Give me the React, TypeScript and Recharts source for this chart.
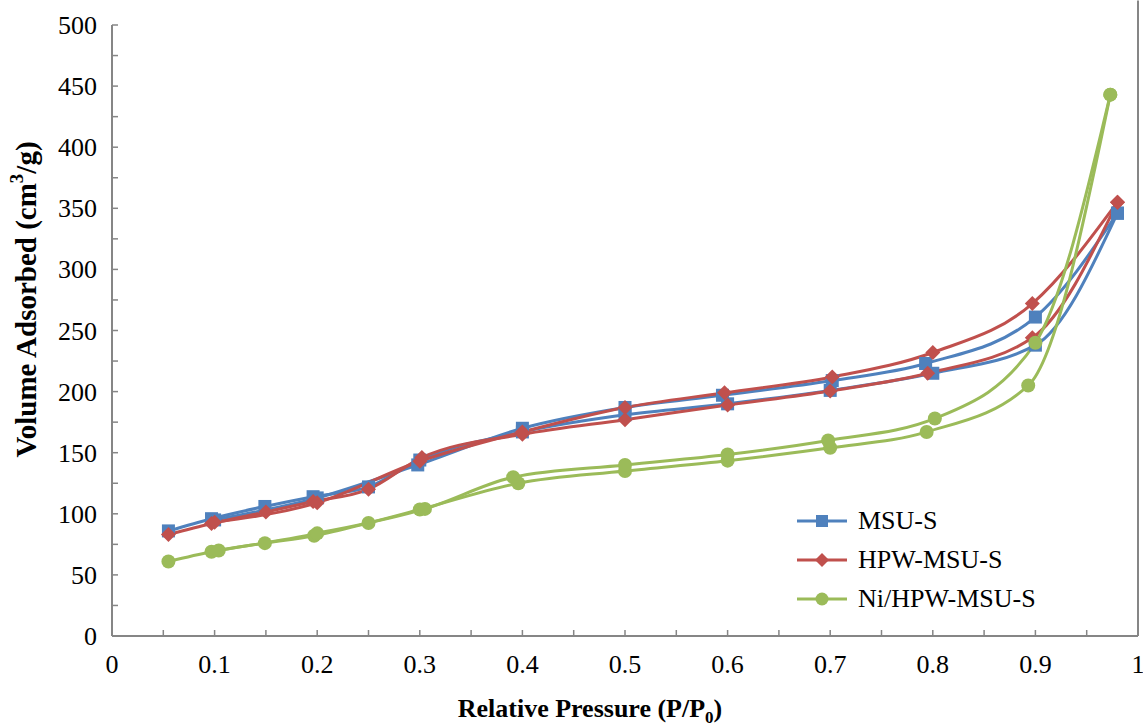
import { LineChart, Line, XAxis, YAxis, Legend, ReferenceLine, Label } from "recharts";

// N2 isotherms: each sample has a lower (adsorption) and upper (desorption) branch
const msuAds = [
  { p: 0.055, v: 86 }, { p: 0.097, v: 96 }, { p: 0.149, v: 106 }, { p: 0.196, v: 114 },
  { p: 0.25, v: 122 }, { p: 0.3, v: 144 }, { p: 0.4, v: 167 }, { p: 0.5, v: 181 },
  { p: 0.6, v: 190 }, { p: 0.7, v: 201 }, { p: 0.8, v: 215 }, { p: 0.9, v: 238 },
  { p: 0.98, v: 346 },
];
const msuDes = [
  { p: 0.1, v: 95 }, { p: 0.2, v: 113 }, { p: 0.298, v: 140 }, { p: 0.4, v: 170 },
  { p: 0.5, v: 187 }, { p: 0.595, v: 197 }, { p: 0.702, v: 209 }, { p: 0.793, v: 223 },
  { p: 0.9, v: 261 }, { p: 0.98, v: 346 },
];
const hpwAds = [
  { p: 0.055, v: 83 }, { p: 0.097, v: 92 }, { p: 0.15, v: 101.5 }, { p: 0.196, v: 110 },
  { p: 0.25, v: 120 }, { p: 0.302, v: 146 }, { p: 0.4, v: 165 }, { p: 0.5, v: 177 },
  { p: 0.6, v: 189 }, { p: 0.7, v: 200.5 }, { p: 0.795, v: 215 }, { p: 0.897, v: 244 },
  { p: 0.98, v: 355 },
];
const hpwDes = [
  { p: 0.1, v: 93 }, { p: 0.2, v: 109 }, { p: 0.3, v: 143 }, { p: 0.4, v: 167 },
  { p: 0.5, v: 187 }, { p: 0.597, v: 199 }, { p: 0.702, v: 212 }, { p: 0.8, v: 232 },
  { p: 0.897, v: 272 }, { p: 0.98, v: 355 },
];
const niAds = [
  { p: 0.055, v: 61 }, { p: 0.097, v: 69 }, { p: 0.149, v: 76 }, { p: 0.197, v: 82 },
  { p: 0.25, v: 92.5 }, { p: 0.3, v: 103.5 }, { p: 0.396, v: 125 }, { p: 0.5, v: 135 },
  { p: 0.6, v: 143.5 }, { p: 0.7, v: 154 }, { p: 0.794, v: 167 }, { p: 0.893, v: 205 },
  { p: 0.973, v: 443 },
];
const niDes = [
  { p: 0.104, v: 70 }, { p: 0.2, v: 84 }, { p: 0.305, v: 104 }, { p: 0.391, v: 130 },
  { p: 0.5, v: 140 }, { p: 0.6, v: 148.5 }, { p: 0.698, v: 160 }, { p: 0.802, v: 178 },
  { p: 0.9, v: 240 }, { p: 0.973, v: 443 },
];

const xTicks = [0, 0.05, 0.1, 0.15, 0.2, 0.25, 0.3, 0.35, 0.4, 0.45, 0.5, 0.55, 0.6, 0.65, 0.7, 0.75, 0.8, 0.85, 0.9, 0.95, 1];
const yTicks = [0, 25, 50, 75, 100, 125, 150, 175, 200, 225, 250, 275, 300, 325, 350, 375, 400, 425, 450, 475, 500];

const BLUE = "#4F81BD";
const RED = "#C0504D";
const GREEN = "#9BBB59";
const AXIS = "#868686";
const FONT = "'Liberation Serif', 'Times New Roman', serif";
const FS = 26;
const LW = 3;

const X_MARGIN = 10;
const Y_MARGIN = 15;

const XTick = (props: any) => {
  const { x, y, payload } = props;
  const v = payload.value;
  const axisY = y - X_MARGIN;
  const major = Math.round(v * 100) % 10 === 0;
  const text = v === 0 ? "0" : v === 1 ? "1" : v.toFixed(1);
  return (
    <g>
      <line x1={x} x2={x} y1={axisY} y2={axisY - 6} stroke={AXIS} strokeWidth={1.5} />
      {major && (
        <text x={x} y={axisY + 37} textAnchor="middle" fontFamily={FONT} fontSize={FS} fill="#000">
          {text}
        </text>
      )}
    </g>
  );
};

const YTick = (props: any) => {
  const { x, y, payload } = props;
  const v = payload.value;
  const axisX = x + Y_MARGIN;
  return (
    <g>
      <line x1={axisX} x2={axisX + 6} y1={y} y2={y} stroke={AXIS} strokeWidth={1.5} />
      {v % 50 === 0 && (
        <text x={x} y={y + 9} textAnchor="end" fontFamily={FONT} fontSize={FS} fill="#000">
          {v}
        </text>
      )}
    </g>
  );
};

const square = (color: string) => (props: any) => (
  <rect key={`s${props.index}`} x={props.cx - 6.5} y={props.cy - 6.5} width={13} height={13} fill={color} />
);
const diamond = (color: string) => (props: any) => {
  const { cx, cy } = props;
  return (
    <path key={`d${props.index}`} d={`M${cx},${cy - 7.5}L${cx + 7.5},${cy}L${cx},${cy + 7.5}L${cx - 7.5},${cy}Z`} fill={color} />
  );
};
const circle = (color: string) => (props: any) => (
  <circle key={`c${props.index}`} cx={props.cx} cy={props.cy} r={7} fill={color} />
);

const legendItems = [
  { name: "MSU-S", color: BLUE, shape: "square" },
  { name: "HPW-MSU-S", color: RED, shape: "diamond" },
  { name: "Ni/HPW-MSU-S", color: GREEN, shape: "circle" },
];

const LegendBox = () => (
  <div style={{ fontFamily: FONT, fontSize: FS, color: "#000" }}>
    {legendItems.map((it) => (
      <div key={it.name} style={{ display: "flex", alignItems: "center", height: 39 }}>
        <svg width={58} height={20} style={{ marginRight: 5 }}>
          <line x1={2} x2={52} y1={10} y2={10} stroke={it.color} strokeWidth={LW} />
          {it.shape === "square" && <rect x={21} y={4} width={12} height={12} fill={it.color} />}
          {it.shape === "diamond" && <path d="M27,3L34,10L27,17L20,10Z" fill={it.color} />}
          {it.shape === "circle" && <circle cx={27} cy={10} r={6.5} fill={it.color} />}
        </svg>
        <span>{it.name}</span>
      </div>
    ))}
  </div>
);

const YTitle = (props: any) => {
  const vb = props.viewBox;
  const cx = 26;
  const cy = vb.y + vb.height / 2 - 31;
  return (
    <text
      x={cx}
      y={cy}
      transform={`rotate(-90, ${cx}, ${cy})`}
      textAnchor="middle"
      dominantBaseline="central"
      fontFamily={FONT}
      fontSize={29}
      fontWeight="bold"
      fill="#000"
    >
      Volume Adsorbed (cm
      <tspan fontSize={19} dy={-10}>3</tspan>
      <tspan dy={10}>/g)</tspan>
    </text>
  );
};

const XTitle = (props: any) => {
  const vb = props.viewBox;
  const cx = vb.x + vb.width / 2 - 35;
  return (
    <text x={cx} y={717} textAnchor="middle" fontFamily={FONT} fontSize={FS} fontWeight="bold" fill="#000">
      Relative Pressure (P/P
      <tspan fontSize={17} dy={6}>0</tspan>
      <tspan dy={-6}>)</tspan>
    </text>
  );
};

export default function App() {
  return (
    <div style={{ position: "absolute", left: 0, top: 0, background: "#fff" }}>
      <LineChart width={1143} height={727} margin={{ top: 25, right: 5, left: 52, bottom: 31 }}>
        <XAxis
          type="number"
          dataKey="p"
          domain={[0, 1]}
          ticks={xTicks}
          interval={0}
          tickSize={0}
          tickMargin={X_MARGIN}
          tick={<XTick />}
          stroke={AXIS}
          strokeWidth={2}
          height={60}
        >
          <Label content={<XTitle />} />
        </XAxis>
        <YAxis
          type="number"
          dataKey="v"
          domain={[0, 500]}
          ticks={yTicks}
          interval={0}
          tickSize={0}
          tickMargin={Y_MARGIN}
          tick={<YTick />}
          stroke={AXIS}
          strokeWidth={2}
          width={60}
        >
          <Label content={<YTitle />} />
        </YAxis>
        <ReferenceLine
          segment={[{ x: 1, y: 0 }, { x: 1, y: 520 }]}
          ifOverflow="visible"
          stroke={AXIS}
          strokeWidth={2}
        />
        <Legend
          layout="horizontal"
          verticalAlign="middle"
          align="center"
          content={<LegendBox />}
          wrapperStyle={{ left: 795, top: 501, width: 320 }}
        />
        <Line data={msuAds} dataKey="v" type="monotone" stroke={BLUE} strokeWidth={LW} dot={square(BLUE)} isAnimationActive={false} />
        <Line data={msuDes} dataKey="v" type="monotone" stroke={BLUE} strokeWidth={LW} dot={square(BLUE)} isAnimationActive={false} />
        <Line data={hpwAds} dataKey="v" type="monotone" stroke={RED} strokeWidth={LW} dot={diamond(RED)} isAnimationActive={false} />
        <Line data={hpwDes} dataKey="v" type="monotone" stroke={RED} strokeWidth={LW} dot={diamond(RED)} isAnimationActive={false} />
        <Line data={niAds} dataKey="v" type="monotone" stroke={GREEN} strokeWidth={LW} dot={circle(GREEN)} isAnimationActive={false} />
        <Line data={niDes} dataKey="v" type="monotone" stroke={GREEN} strokeWidth={LW} dot={circle(GREEN)} isAnimationActive={false} />
      </LineChart>
    </div>
  );
}
